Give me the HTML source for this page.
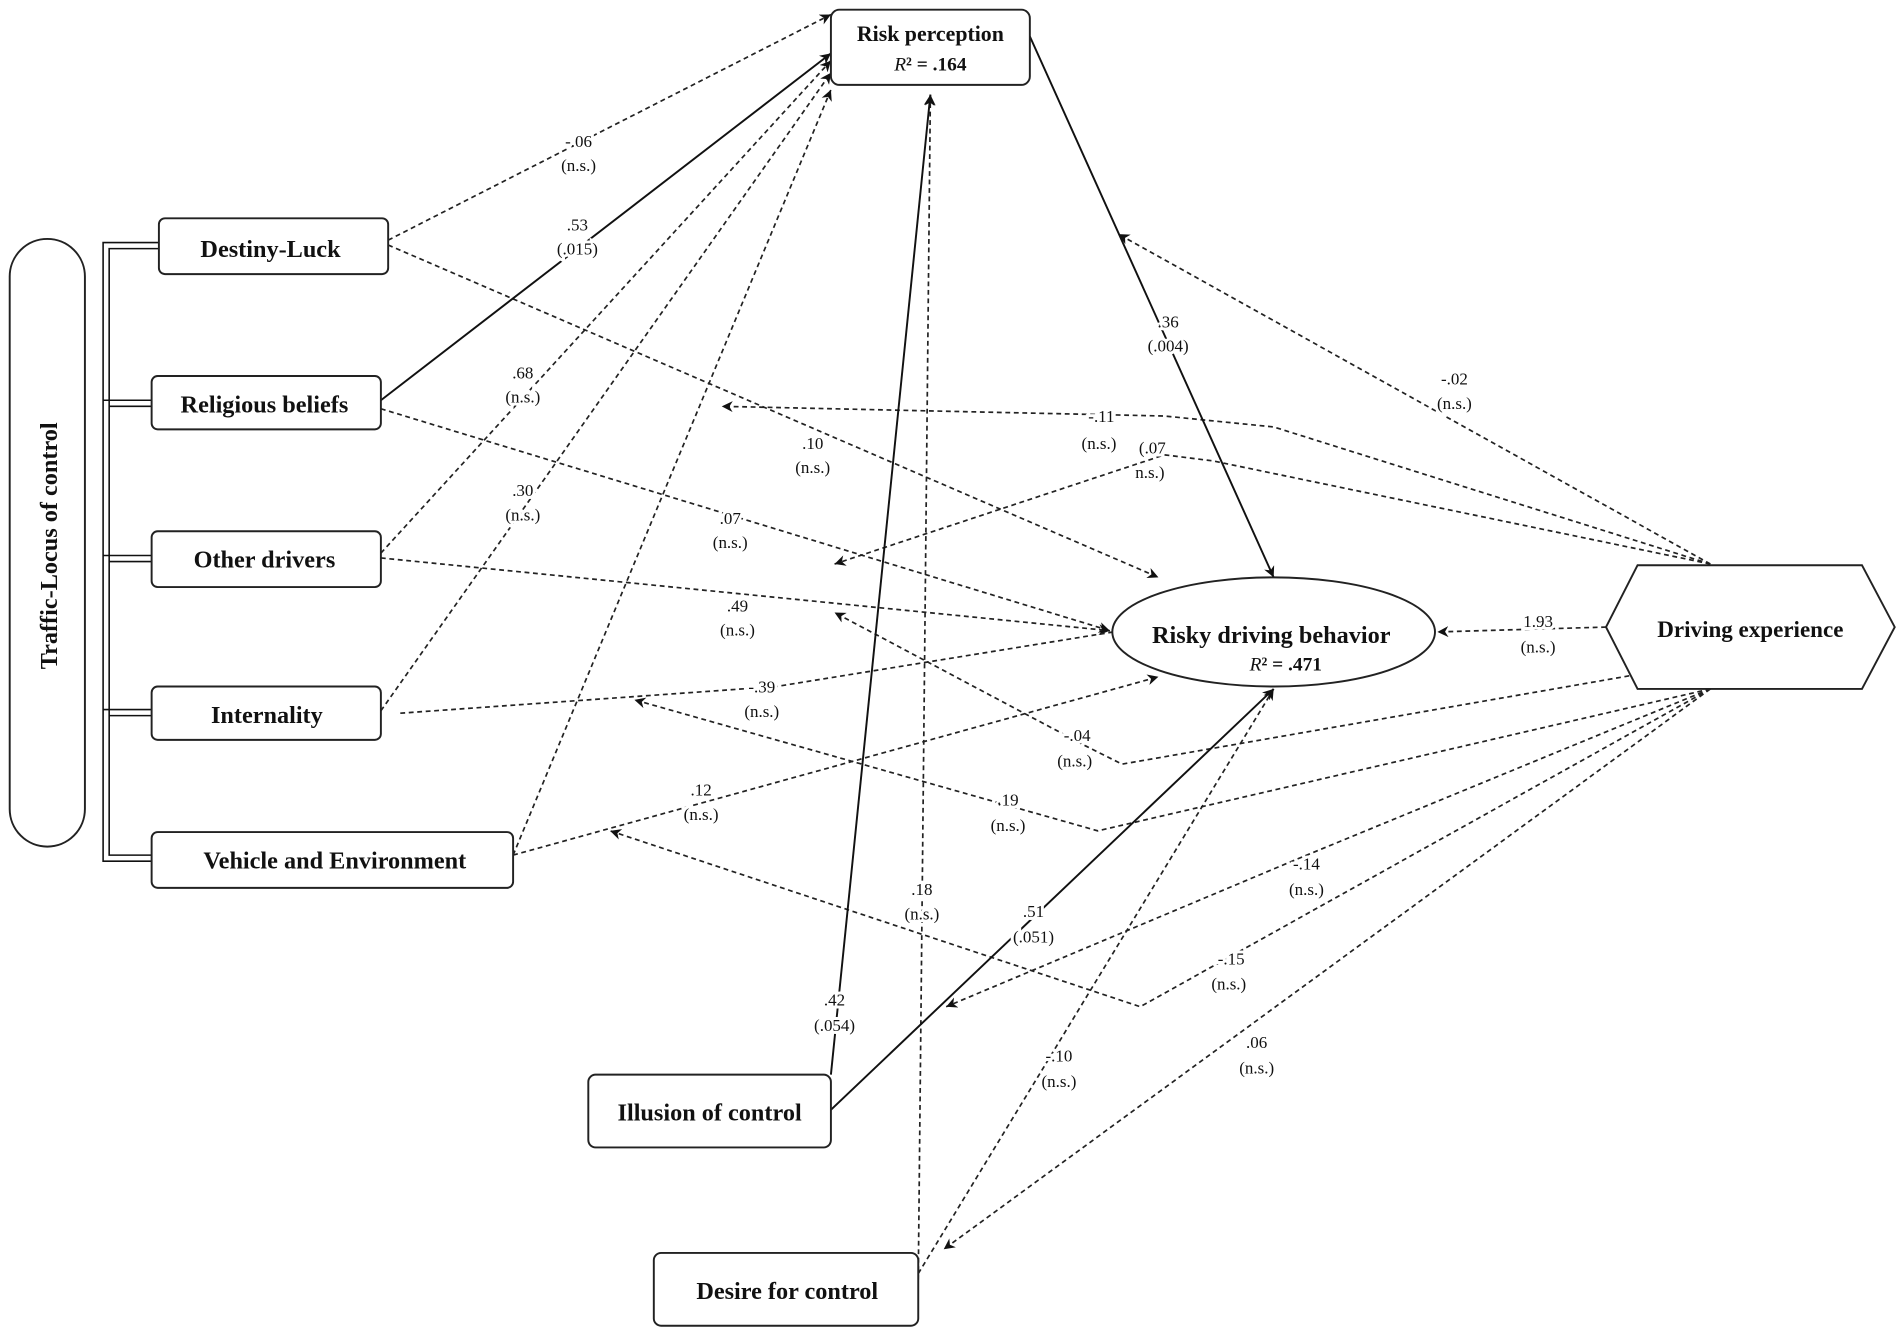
<!DOCTYPE html>
<html><head><meta charset="utf-8"><style>
html,body{margin:0;padding:0;background:#fff}
svg{display:block}
text{font-family:"Liberation Serif",serif;fill:#111}
.b{font-weight:bold;font-size:20px}
.l{font-size:14px;paint-order:stroke;stroke:#fff;stroke-width:5px}
.d{stroke:#222;stroke-width:1.4;fill:none;stroke-dasharray:4 3}
.s{stroke:#111;stroke-width:1.6;fill:none}
.box{fill:#fff;stroke:#222;stroke-width:1.6}
</style></head><body>
<svg width="1902" height="1333" viewBox="0 0 1568 1099" preserveAspectRatio="none" xmlns="http://www.w3.org/2000/svg">
<defs>
<marker id="a" viewBox="0 0 10 10" refX="10" refY="5" markerWidth="9" markerHeight="9" markerUnits="userSpaceOnUse" orient="auto"><path d="M0,0 L10,5 L0,10 L3,5 z" fill="#111"/></marker>
</defs>
<!-- bracket -->
<g stroke="#111" stroke-width="1.3" fill="none">
<path d="M131,200 H85 V710 H125"/><path d="M131,205 H90 V705 H125"/>
<path d="M125,330 H85 M125,335 H90"/>
<path d="M125,458 H85 M125,463 H90"/>
<path d="M125,585 H85 M125,590 H90"/>
</g>
<!-- dashed edges -->
<g class="d" marker-end="url(#a)">
<path d="M320,198 L685,12"/>
<path d="M320,202 L955,476"/>
<path d="M314,337 L915,520"/>
<path d="M314,456 L685,50"/>
<path d="M314,460 L915,520"/>
<path d="M314,586 L685,60"/>
<path d="M330,588 L640,566 L955,515"/>
<path d="M423,705 L685,74"/>
<path d="M423,705 L955,558"/>
<path d="M757,1055 L767,78"/>
<path d="M757,1050 L1050,568"/>
<path d="M1410,465 L922,193"/>
<path d="M1410,465 L1050,352 L960,343 L595,335"/>
<path d="M1410,465 L1000,380 L960,375 L688,465"/>
<path d="M1324,517 L1185,521"/>
<path d="M1350,556 L925,630 L895,615 L688,505"/>
<path d="M1410,568 L905,685 L523,577"/>
<path d="M1410,568 L1070,708 L780,830"/>
<path d="M1410,568 L940,830 L503,685"/>
<path d="M1410,568 L778,1030"/>
</g>
<!-- solid edges -->
<g class="s" marker-end="url(#a)">
<path d="M314,330 L685,44"/>
<path d="M849,30 L1050,476"/>
<path d="M685,886 L767,78"/>
<path d="M685,915 L1050,568"/>
</g>
<!-- nodes -->
<rect class="box" x="685" y="8" width="164" height="62" rx="7"/>
<text class="b" x="767" y="34" text-anchor="middle" style="font-size:18px">Risk perception</text>
<text x="767" y="58" text-anchor="middle" style="font-size:16px;font-weight:bold"><tspan font-style="italic" font-weight="normal">R</tspan>² = .164</text>
<rect class="box" x="8" y="197" width="62" height="501" rx="31"/>
<text class="b" transform="translate(47,450) rotate(-90)" text-anchor="middle">Traffic-Locus of control</text>
<rect class="box" x="131" y="180" width="189" height="46" rx="5"/><text class="b" x="223" y="212" text-anchor="middle">Destiny-Luck</text>
<rect class="box" x="125" y="310" width="189" height="44" rx="5"/><text class="b" x="218" y="340" text-anchor="middle">Religious beliefs</text>
<rect class="box" x="125" y="438" width="189" height="46" rx="5"/><text class="b" x="218" y="468" text-anchor="middle">Other drivers</text>
<rect class="box" x="125" y="566" width="189" height="44" rx="5"/><text class="b" x="220" y="596" text-anchor="middle">Internality</text>
<rect class="box" x="125" y="686" width="298" height="46" rx="5"/><text class="b" x="276" y="716" text-anchor="middle">Vehicle and Environment</text>
<rect class="box" x="485" y="886" width="200" height="60" rx="6"/><text class="b" x="585" y="924" text-anchor="middle">Illusion of control</text>
<rect class="box" x="539" y="1033" width="218" height="60" rx="6"/><text class="b" x="649" y="1071" text-anchor="middle">Desire for control</text>
<ellipse class="box" cx="1050" cy="521" rx="133" ry="45"/>
<text class="b" x="1048" y="530" text-anchor="middle">Risky driving behavior</text>
<text x="1060" y="553" text-anchor="middle" style="font-size:16px;font-weight:bold"><tspan font-style="italic" font-weight="normal">R</tspan>² = .471</text>
<polygon class="box" points="1324,517 1350,466 1535,466 1562,517 1535,568 1350,568"/>
<text class="b" x="1443" y="525" text-anchor="middle" style="font-size:19px">Driving experience</text>
<!-- labels -->
<g class="l" text-anchor="middle">
<text x="477" y="121">-.06</text><text x="477" y="141">(n.s.)</text>
<text x="476" y="190">.53</text><text x="476" y="210">(.015)</text>
<text x="431" y="312">.68</text><text x="431" y="332">(n.s.)</text>
<text x="431" y="409">.30</text><text x="431" y="429">(n.s.)</text>
<text x="670" y="370">.10</text><text x="670" y="390">(n.s.)</text>
<text x="602" y="432">.07</text><text x="602" y="452">(n.s.)</text>
<text x="608" y="504">.49</text><text x="608" y="524">(n.s.)</text>
<text x="628" y="571">-.39</text><text x="628" y="591">(n.s.)</text>
<text x="578" y="656">.12</text><text x="578" y="676">(n.s.)</text>
<text x="963" y="270">.36</text><text x="963" y="290">(.004)</text>
<text x="1199" y="317">-.02</text><text x="1199" y="337">(n.s.)</text>
<text x="908" y="348">-.11</text><text x="906" y="370">(n.s.)</text>
<text x="950" y="374">(.07</text><text x="948" y="394">n.s.)</text>
<text x="1268" y="517">1.93</text><text x="1268" y="538">(n.s.)</text>
<text x="888" y="611">-.04</text><text x="886" y="632">(n.s.)</text>
<text x="831" y="664">.19</text><text x="831" y="685">(n.s.)</text>
<text x="1077" y="717">-.14</text><text x="1077" y="738">(n.s.)</text>
<text x="1015" y="795">-.15</text><text x="1013" y="816">(n.s.)</text>
<text x="1036" y="864">.06</text><text x="1036" y="885">(n.s.)</text>
<text x="760" y="738">.18</text><text x="760" y="758">(n.s.)</text>
<text x="852" y="756">.51</text><text x="852" y="777">(.051)</text>
<text x="688" y="829">.42</text><text x="688" y="850">(.054)</text>
<text x="873" y="875">-.10</text><text x="873" y="896">(n.s.)</text>
</g>
</svg>
</body></html>
